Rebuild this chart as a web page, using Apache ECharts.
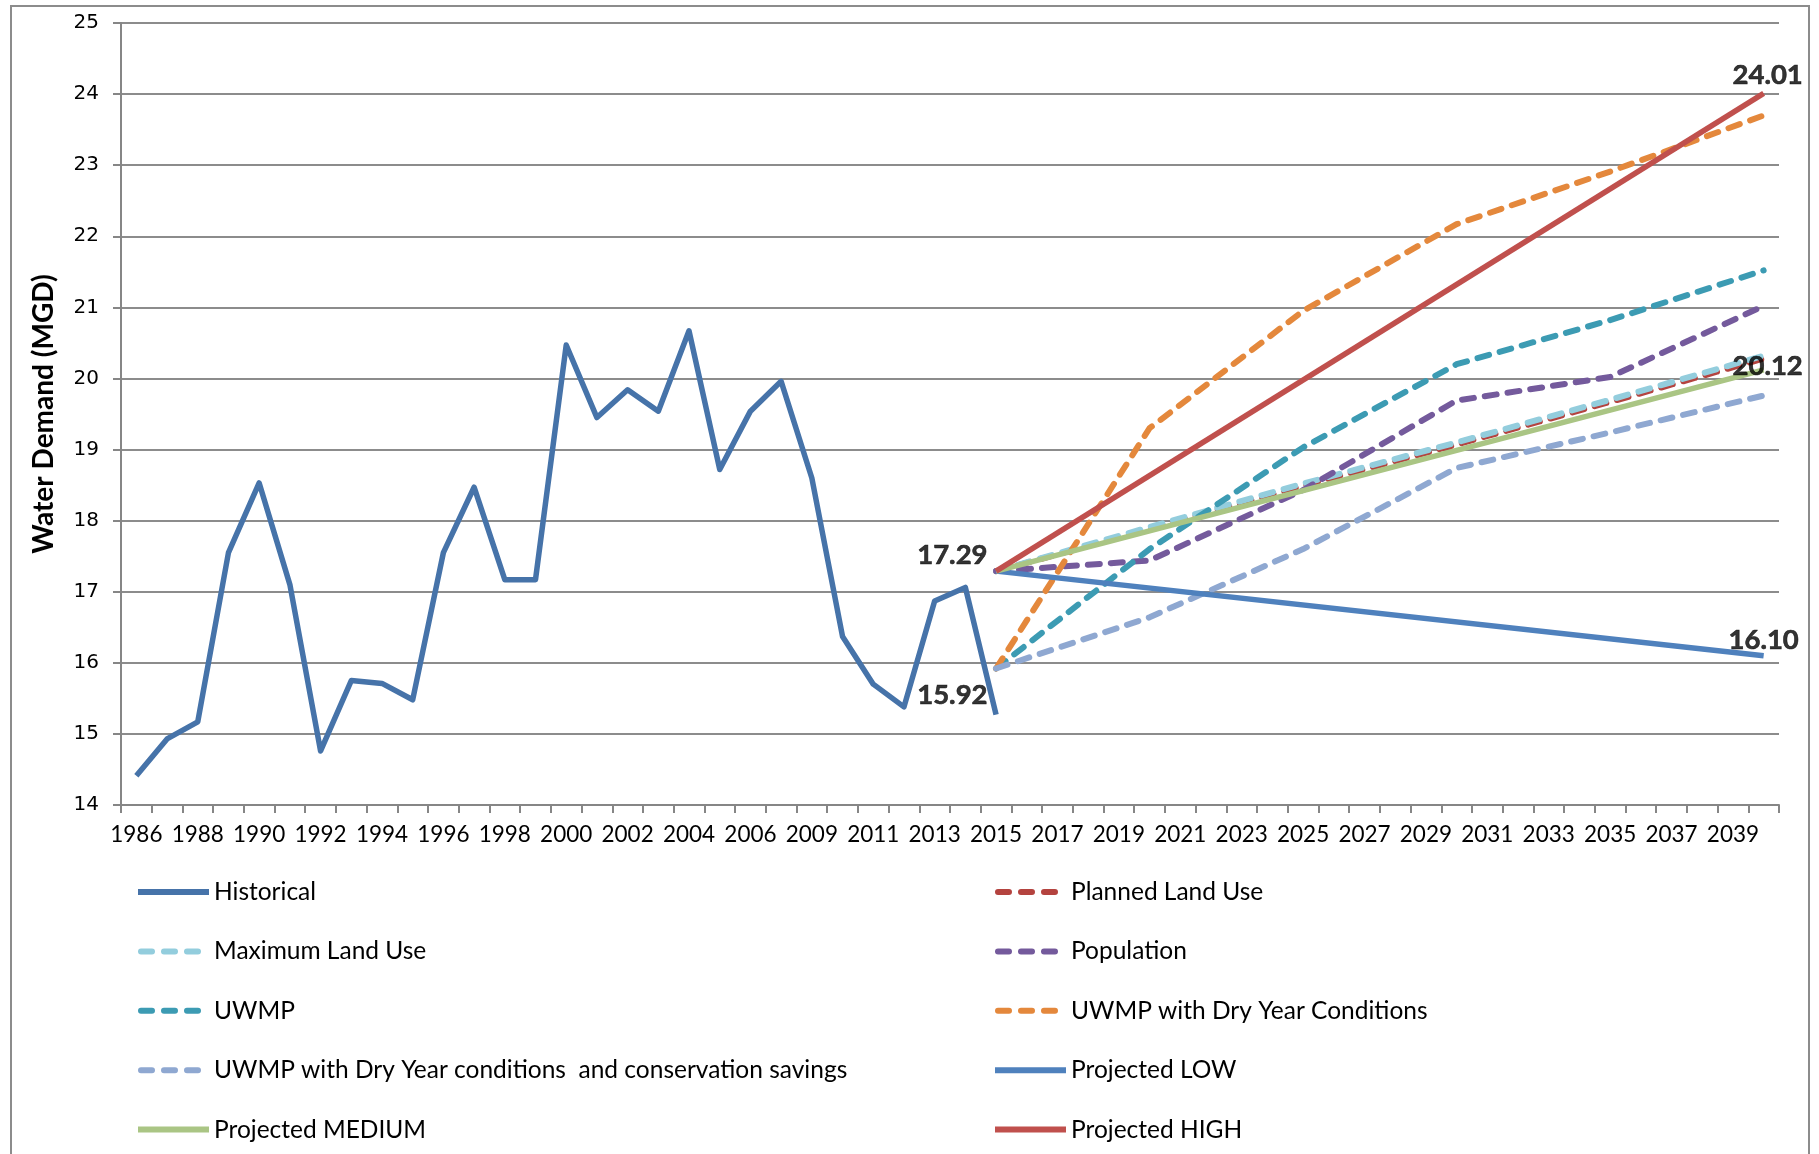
<!DOCTYPE html>
<html>
<head>
<meta charset="utf-8">
<title>Water Demand (MGD)</title>
<script src="https://cdn.jsdelivr.net/npm/echarts@6/dist/echarts.min.js"></script>
<style>
  html, body { margin: 0; padding: 0; background: #ffffff; }
  #chart { width: 1819px; height: 1154px; }
</style>
</head>
<body>
<div id="chart"></div>
<script>
// Category axis years (the source table has no row for 2008)
const years = [
  '1986','1987','1988','1989','1990','1991','1992','1993','1994','1995',
  '1996','1997','1998','1999','2000','2001','2002','2003','2004','2005',
  '2006','2007','2009','2010','2011','2012','2013','2014','2015','2016',
  '2017','2018','2019','2020','2021','2022','2023','2024','2025','2026',
  '2027','2028','2029','2030','2031','2032','2033','2034','2035','2036',
  '2037','2038','2039','2040'
];

// Historical demand, 1986-2015 (MGD)
const historicalYears = years.slice(0, 29);
const historical = [
  14.41, 14.93, 15.17, 17.55, 18.53, 17.10, 14.76, 15.75, 15.71, 15.48,
  17.55, 18.47, 17.17, 17.17, 20.47, 19.45, 19.84, 19.54, 20.67, 18.72,
  19.54, 19.96, 18.60, 16.37, 15.70, 15.38, 16.87, 17.06, 15.27
];

// Scenario projections at five-year steps
const stepYears = ['2015', '2020', '2025', '2030', '2035', '2040'];
const plannedLandUse   = [17.29, 17.88, 18.49, 19.07, 19.67, 20.28];
const maximumLandUse   = [17.29, 17.91, 18.52, 19.10, 19.70, 20.32];
const population       = [17.29, 17.44, 18.43, 19.69, 20.02, 21.02];
const uwmp             = [15.92, 17.60, 19.03, 20.20, 20.82, 21.52];
const uwmpDryYear      = [15.92, 19.30, 20.95, 22.17, 22.91, 23.70];
const uwmpConservation = [15.92, 16.64, 17.60, 18.74, 19.24, 19.76];

// Straight-line projections: start and end years
const endYears = ['2015', '2040'];
const projectedLow    = [17.29, 16.10];
const projectedMedium = [17.29, 20.12];
const projectedHigh   = [17.29, 24.01];

const yTicks = { min: 14, max: 25, step: 1 };

const COLORS = {
  historical: '#4673A9',
  planned: '#B4433F',
  maximum: '#93CDDD',
  population: '#745A9C',
  uwmp: '#3C9BB3',
  dry: '#E4883C',
  conservation: '#8FA8D1',
  low: '#4F81BD',
  medium: '#AAC584',
  high: '#C0504D'
};

const TEXT_FONT = 'Lato, "Open Sans", sans-serif';

// Legend swatches: a solid bar, or three rounded dashes
const SOLID_ICON = 'path://M0,0H71V6H0Z';
const DASH_ICON = 'path://M3,0H14A3,3,0,0,1,14,6H3A3,3,0,0,1,3,0Z' +
  'M26,0H37A3,3,0,0,1,37,6H26A3,3,0,0,1,26,0Z' +
  'M49,0H60A3,3,0,0,1,60,6H49A3,3,0,0,1,49,0Z' +
  'M71,3L71,3Z';

function pairs(xs, vs) {
  return xs.map((x, i) => [x, vs[i]]);
}

function lineSeries(name, color, data, dashed) {
  return {
    name: name,
    type: 'line',
    data: data,
    showSymbol: false,
    symbol: 'none',
    lineStyle: {
      color: color,
      width: dashed ? 6 : 5.5,
      type: dashed ? [12, 11] : 'solid',
      cap: dashed ? 'round' : 'butt',
      join: 'round'
    },
    itemStyle: { color: color },
    emphasis: { disabled: true },
    z: 3
  };
}

function valueLabel(extra) {
  return Object.assign({
    show: true,
    formatter: p => p.value[1].toFixed(2),
    fontFamily: TEXT_FONT,
    fontWeight: 'bold',
    fontSize: 27.5,
    lineHeight: 27,
    color: '#000000',
    textBorderColor: '#000000',
    textBorderWidth: 0.6
  }, extra);
}

// Value callouts at the start and end of the projections
const callouts = [
  { value: ['2015', projectedHigh[0]], label: valueLabel({ position: 'left', distance: 8, offset: [0, -16] }) },
  { value: ['2015', uwmp[0]], label: valueLabel({ position: 'left', distance: 8, offset: [0, 27] }) },
  { value: ['2040', projectedHigh[1]], label: valueLabel({ position: 'top', distance: 4, offset: [4, 0] }) },
  { value: ['2040', projectedMedium[1]], label: valueLabel({ position: 'inside', offset: [4, -4] }) },
  { value: ['2040', projectedLow[1]], label: valueLabel({ position: 'top', distance: 2 }) }
];

const series = [
  lineSeries('Historical', COLORS.historical, pairs(historicalYears, historical), false),
  lineSeries('Planned Land Use', COLORS.planned, pairs(stepYears, plannedLandUse), true),
  lineSeries('Maximum Land Use', COLORS.maximum, pairs(stepYears, maximumLandUse), true),
  lineSeries('Population', COLORS.population, pairs(stepYears, population), true),
  lineSeries('UWMP', COLORS.uwmp, pairs(stepYears, uwmp), true),
  lineSeries('UWMP with Dry Year Conditions', COLORS.dry, pairs(stepYears, uwmpDryYear), true),
  lineSeries('UWMP with Dry Year conditions  and conservation savings', COLORS.conservation,
    pairs(stepYears, uwmpConservation), true),
  lineSeries('Projected LOW', COLORS.low, pairs(endYears, projectedLow), false),
  lineSeries('Projected MEDIUM', COLORS.medium, pairs(endYears, projectedMedium), false),
  lineSeries('Projected HIGH', COLORS.high, pairs(endYears, projectedHigh), false),
  {
    name: 'callouts',
    type: 'scatter',
    data: callouts,
    symbol: 'circle',
    symbolSize: 1,
    itemStyle: { color: 'rgba(0,0,0,0)' },
    emphasis: { disabled: true },
    silent: true,
    z: 6
  }
];

const legendText = {
  fontFamily: TEXT_FONT,
  fontSize: 24.5,
  lineHeight: 26,
  color: '#000000'
};

function legendBlock(left, items) {
  return {
    orient: 'vertical',
    left: left,
    top: 879,
    padding: 0,
    itemGap: 33.4,
    itemWidth: 71,
    itemHeight: 6,
    selectedMode: false,
    textStyle: legendText,
    data: items.map(([name, dashed]) => ({ name: name, icon: dashed ? DASH_ICON : SOLID_ICON }))
  };
}

const option = {
  animation: false,
  backgroundColor: '#ffffff',
  grid: { left: 121, top: 23, width: 1658, height: 782 },
  xAxis: {
    type: 'category',
    data: years,
    boundaryGap: true,
    axisLine: { lineStyle: { color: '#868686', width: 2 } },
    axisTick: { show: true, interval: 0, length: 8, lineStyle: { color: '#868686', width: 2 } },
    axisLabel: {
      interval: 1,
      margin: 18,
      fontFamily: TEXT_FONT,
      fontSize: 22.5,
      color: '#000000'
    },
    splitLine: { show: false }
  },
  yAxis: {
    type: 'value',
    min: yTicks.min,
    max: yTicks.max,
    interval: yTicks.step,
    name: 'Water Demand (MGD)',
    nameLocation: 'middle',
    nameRotate: 90,
    nameGap: 63,
    nameTextStyle: {
      fontFamily: TEXT_FONT,
      fontWeight: 'bold',
      fontSize: 28,
      color: '#000000'
    },
    axisLine: { show: true, lineStyle: { color: '#868686', width: 2 } },
    axisTick: { show: true, length: 8, lineStyle: { color: '#868686', width: 2 } },
    axisLabel: {
      margin: 22,
      fontFamily: '"DejaVu Sans", Verdana, sans-serif',
      fontSize: 20,
      color: '#000000'
    },
    splitLine: { show: true, lineStyle: { color: '#8C8C8C', width: 2 } }
  },
  legend: [
    legendBlock(138, [
      ['Historical', false],
      ['Maximum Land Use', true],
      ['UWMP', true],
      ['UWMP with Dry Year conditions  and conservation savings', true],
      ['Projected MEDIUM', false]
    ]),
    legendBlock(995, [
      ['Planned Land Use', true],
      ['Population', true],
      ['UWMP with Dry Year Conditions', true],
      ['Projected LOW', false],
      ['Projected HIGH', false]
    ])
  ],
  graphic: [{
    type: 'rect',
    silent: true,
    shape: { x: 11, y: 6, width: 1798, height: 1170 },
    style: { fill: 'none', stroke: '#8C8C8C', lineWidth: 2 },
    z: -1
  }],
  series: series
};

const chart = echarts.init(document.getElementById('chart'), null, { renderer: 'canvas' });
chart.setOption(option);
</script>
</body>
</html>
